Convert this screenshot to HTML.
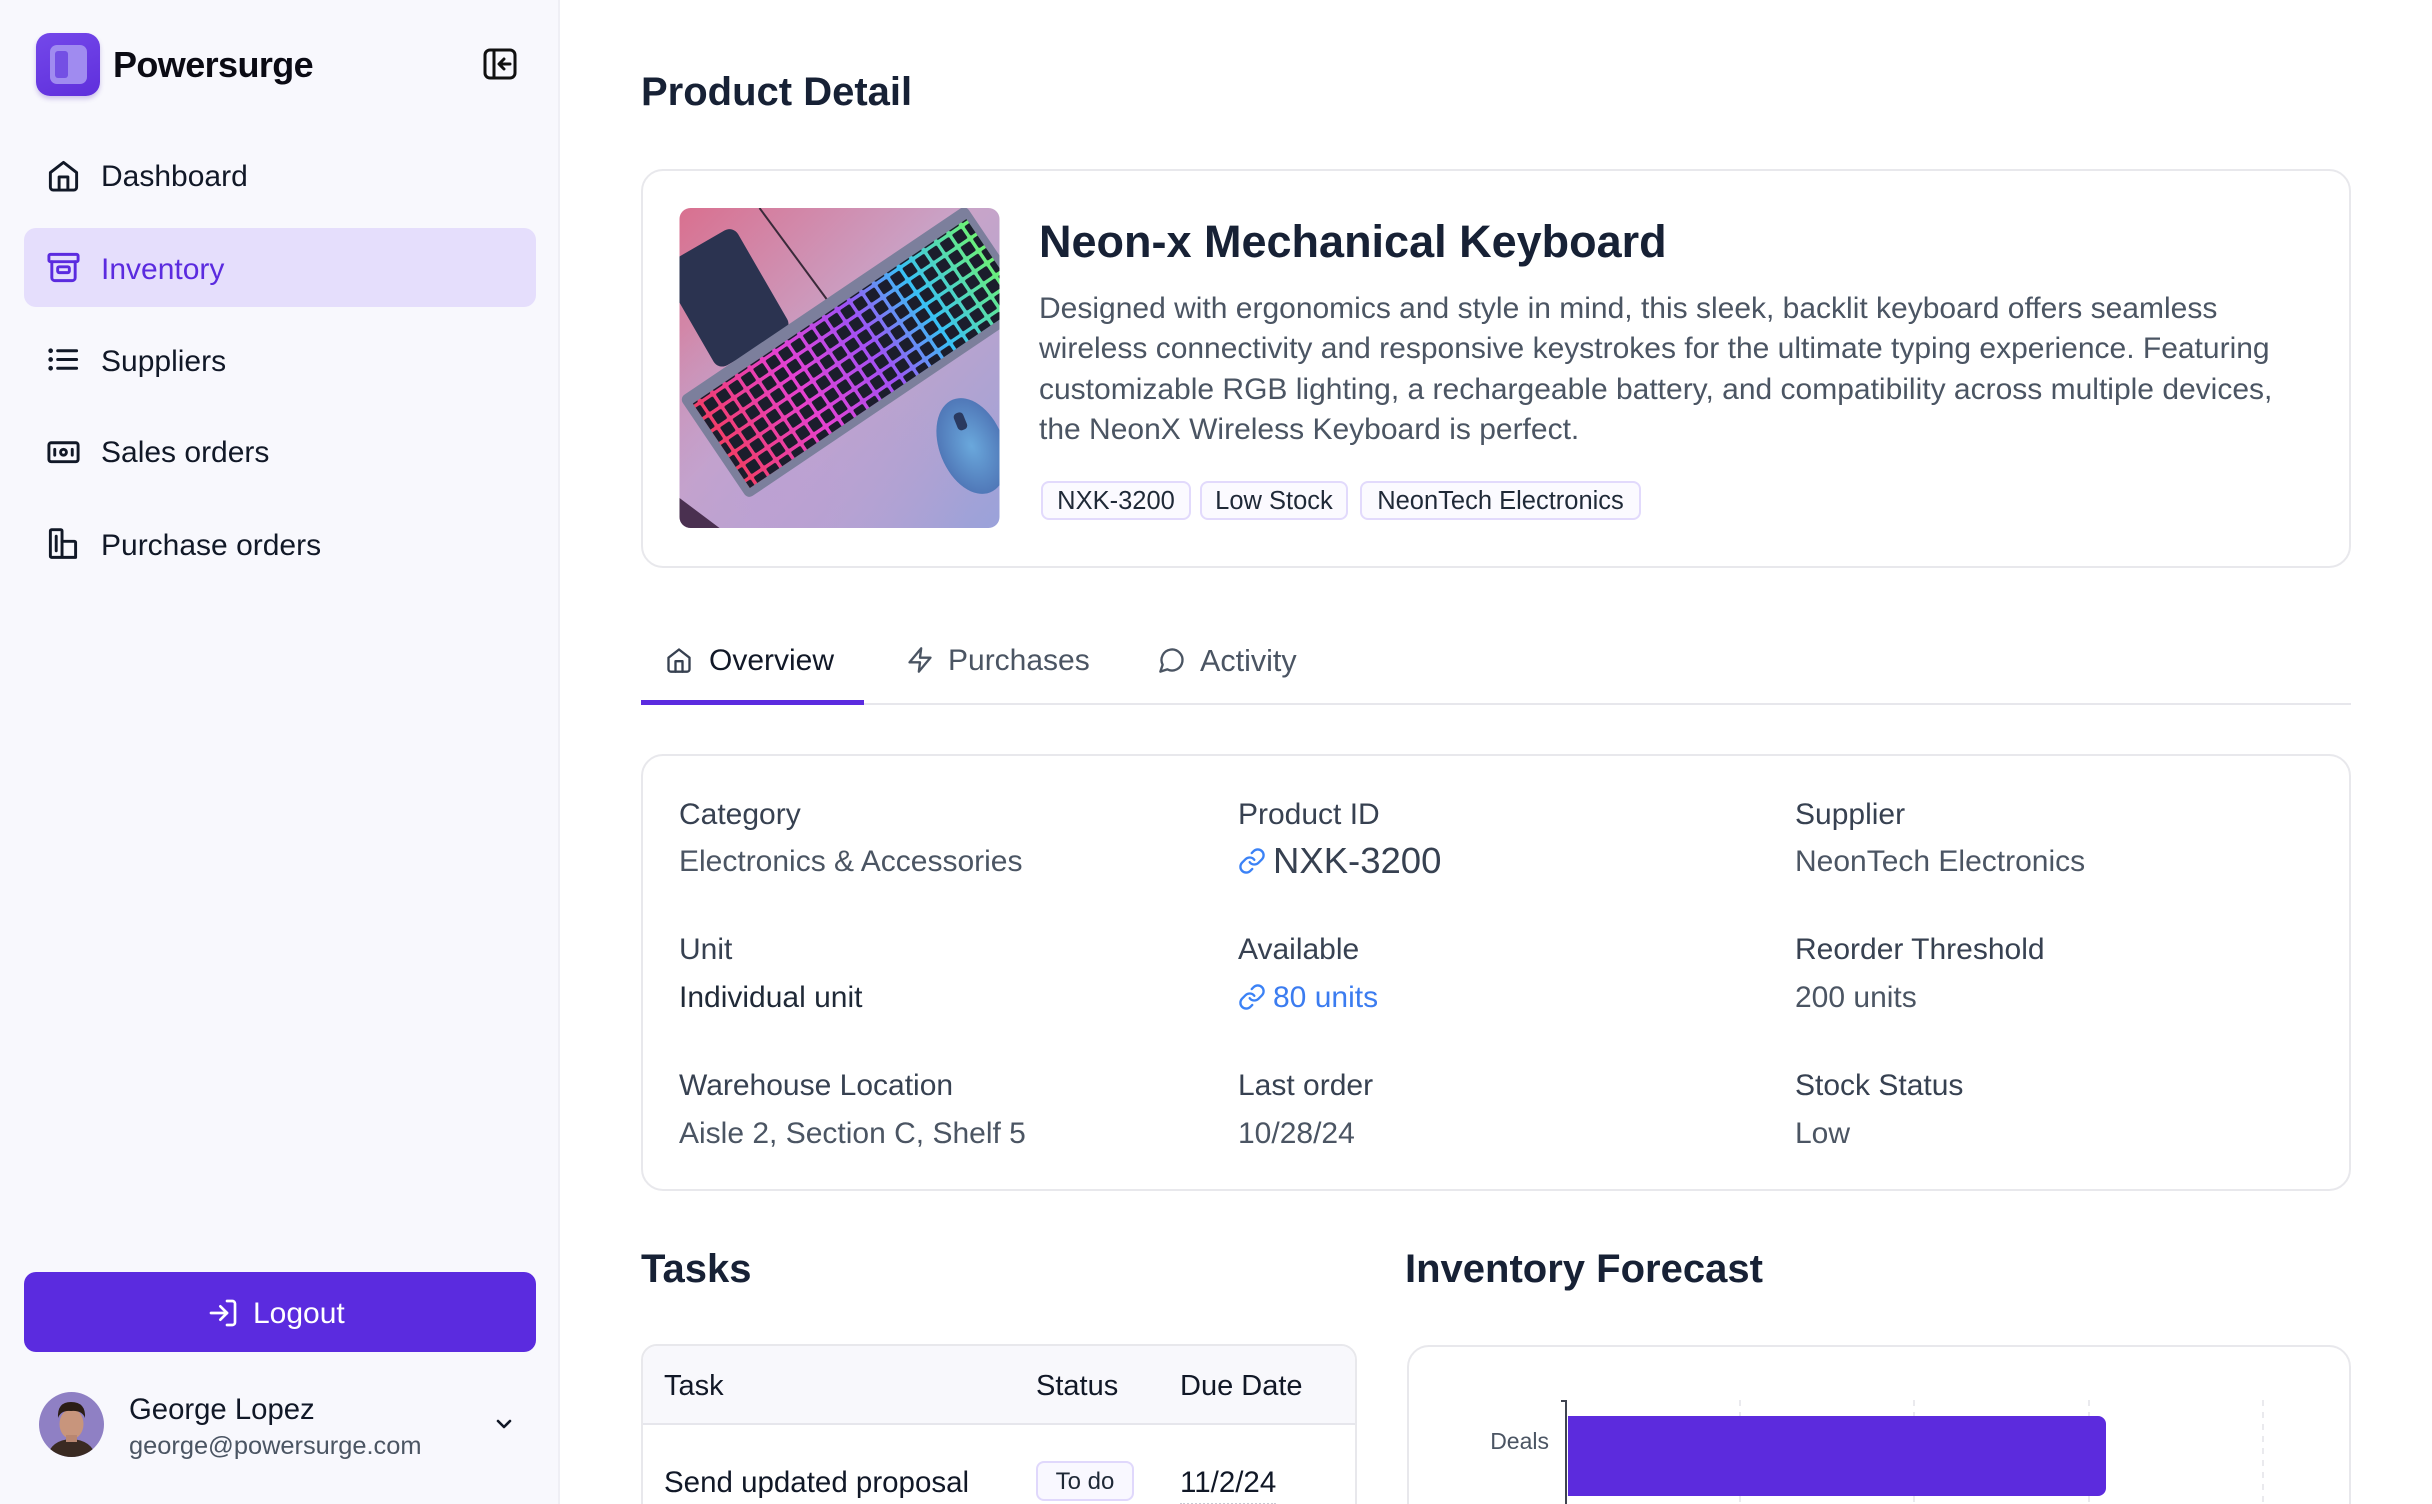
<!DOCTYPE html>
<html><head><meta charset="utf-8">
<style>
*{margin:0;padding:0;box-sizing:border-box}
html,body{width:2432px;height:1504px;overflow:hidden;background:#fff;font-family:"Liberation Sans",Arial,sans-serif;color:#111827}
#root{position:relative;width:2432px;height:1504px;overflow:hidden;background:#fff}
.a{position:absolute;white-space:nowrap}
svg{position:absolute;overflow:visible}
.nav{font-size:30px;line-height:40px;left:101px;color:#111827}
.ic{fill:none;stroke:#111827;stroke-width:2;stroke-linecap:round;stroke-linejoin:round}
.lbl{font-size:30px;line-height:40px;color:#374151}
.val{font-size:30px;line-height:40px;color:#4b5563}
.tag{position:absolute;top:481px;height:39px;border:2px solid #e2dafc;background:#fbfaff;border-radius:8px;font-size:25.5px;line-height:37px;text-align:center;color:#1f2937;white-space:nowrap}
</style></head><body>
<div id="root">

<!-- Sidebar -->
<div class="a" style="left:0;top:0;width:560px;height:1504px;background:#f8f8fd;border-right:2px solid #efeff5"></div>

<!-- logo -->
<div class="a" style="left:36px;top:33px;width:64px;height:63px;border-radius:14px;background:linear-gradient(160deg,#7448ea,#5f2fdc);box-shadow:0 3px 5px rgba(80,40,180,0.25)"></div>
<div class="a" style="left:50px;top:45px;width:37px;height:39px;border-radius:7px;background:#a08bf0"></div>
<div class="a" style="left:55px;top:51px;width:13px;height:27px;border-radius:3px;background:#7450e4"></div>
<div class="a" style="left:113px;top:45px;font-size:36px;line-height:40px;font-weight:bold;letter-spacing:-0.6px;color:#0b0b14">Powersurge</div>
<svg style="left:483px;top:48px" width="34" height="32" viewBox="0 0 34 32"><rect x="2" y="2" width="30" height="28" rx="5" fill="none" stroke="#111" stroke-width="3"/><line x1="11" y1="3" x2="11" y2="29" stroke="#111" stroke-width="3"/><path d="M27 16H17M21 11l-5 5 5 5" fill="none" stroke="#111" stroke-width="3" stroke-linecap="round" stroke-linejoin="round"/></svg>

<!-- nav -->
<svg style="left:46px;top:158px" width="35" height="35" viewBox="0 0 24 24"><path class="ic" d="M3 10l9-7 9 7v10a2 2 0 0 1-2 2H5a2 2 0 0 1-2-2z"/><path class="ic" d="M9 22V13h6v9"/></svg>
<div class="a nav" style="top:157px">Dashboard</div>

<div class="a" style="left:24px;top:228px;width:512px;height:79px;border-radius:12px;background:#e5defc"></div>
<svg style="left:46px;top:250px" width="35" height="35" viewBox="0 0 24 24"><g class="ic" style="stroke:#5b2bdf"><rect x="2" y="3" width="20" height="5" rx="1"/><path d="M4 8v11a2 2 0 0 0 2 2h12a2 2 0 0 0 2-2V8"/><rect x="8" y="11.5" width="8" height="4" rx="1"/></g></svg>
<div class="a nav" style="top:250px;color:#5b2bdf">Inventory</div>

<svg style="left:46px;top:342px" width="35" height="35" viewBox="0 0 24 24"><g class="ic"><path d="M8 6h13M8 12h13M8 18h13"/></g><circle cx="3.2" cy="6" r="1.6" fill="#111827"/><circle cx="3.2" cy="12" r="1.6" fill="#111827"/><circle cx="3.2" cy="18" r="1.6" fill="#111827"/></svg>
<div class="a nav" style="top:342px">Suppliers</div>

<svg style="left:46px;top:434px" width="35" height="35" viewBox="0 0 24 24"><g class="ic"><rect x="2" y="6" width="20" height="13" rx="1.5"/><path d="M6 10.5v4M18 10.5v4"/><circle cx="12" cy="12.5" r="2"/></g></svg>
<div class="a nav" style="top:433px">Sales orders</div>

<svg style="left:46px;top:526px" width="35" height="35" viewBox="0 0 24 24"><g class="ic"><rect x="3" y="2.5" width="8" height="19" rx="0.8"/><path d="M11 10.5h8.5a.8.8 0 0 1 .8.8V21.5H11"/><path d="M7 7v10"/></g></svg>
<div class="a nav" style="top:526px">Purchase orders</div>

<!-- logout -->
<div class="a" style="left:24px;top:1272px;width:512px;height:80px;border-radius:12px;background:#5b2bdf"></div>
<svg style="left:207px;top:1297px" width="32" height="32" viewBox="0 0 24 24"><g class="ic" style="stroke:#fff"><path d="M15 3h4a2 2 0 0 1 2 2v14a2 2 0 0 1-2 2h-4"/><path d="M10 17l5-5-5-5"/><path d="M15 12H3"/></g></svg>
<div class="a" style="left:253px;top:1294px;font-size:30px;line-height:40px;color:#fff">Logout</div>

<!-- user -->
<svg style="left:39px;top:1392px" width="65" height="65" viewBox="0 0 65 65">
<defs><clipPath id="av"><circle cx="32.5" cy="32.5" r="32.5"/></clipPath></defs>
<g clip-path="url(#av)">
<rect width="65" height="65" fill="#8f80c4"/>
<path d="M8 65 Q12 48 32 47 Q53 48 57 65Z" fill="#3a2a22"/>
<ellipse cx="32.5" cy="32" rx="12" ry="15" fill="#c8957c"/>
<path d="M19 26 Q18 10 32 10 Q47 10 46 26 Q43 18 32 19 Q22 18 19 26Z" fill="#2b1d16"/>
<rect x="27" y="43" width="11" height="7" fill="#b98670"/>
</g></svg>
<div class="a" style="left:129px;top:1390px;font-size:29.3px;line-height:40px;color:#111827">George Lopez</div>
<div class="a" style="left:129px;top:1429px;font-size:25.4px;line-height:34px;color:#4b5563">george@powersurge.com</div>
<svg style="left:492px;top:1412px" width="24" height="24" viewBox="0 0 24 24"><path d="M6 9l6 6 6-6" fill="none" stroke="#111827" stroke-width="2.6" stroke-linecap="round" stroke-linejoin="round"/></svg>

<!-- Main -->
<div class="a" style="left:641px;top:70px;font-size:40px;line-height:44px;font-weight:bold;color:#172135">Product Detail</div>

<!-- product card -->
<div class="a" style="left:641px;top:169px;width:1710px;height:399px;border:2px solid #e8e8ec;border-radius:22px"></div>
<svg style="left:679px;top:208px" width="321" height="320" viewBox="0 0 320 320">
<defs>
<clipPath id="ic"><rect width="320" height="320" rx="11"/></clipPath>
<linearGradient id="bg" x1="0" y1="0" x2="1" y2="1"><stop offset="0" stop-color="#d9708f"/><stop offset="0.45" stop-color="#c9a4c8"/><stop offset="1" stop-color="#9aa2da"/></linearGradient>
<radialGradient id="bl" cx="0.3" cy="0.9" r="0.6"><stop offset="0" stop-color="#bca0d4" stop-opacity="0.8"/><stop offset="1" stop-color="#bca0d4" stop-opacity="0"/></radialGradient>
<linearGradient id="kg" x1="0" y1="0" x2="1" y2="0"><stop offset="0" stop-color="#ff3560"/><stop offset="0.3" stop-color="#f03ad8"/><stop offset="0.55" stop-color="#a44cff"/><stop offset="0.75" stop-color="#30c8ff"/><stop offset="1" stop-color="#6cff70"/></linearGradient>
<pattern id="keys" width="15" height="15" patternUnits="userSpaceOnUse"><rect x="2" y="2" width="11.5" height="11.5" rx="1.5" fill="#1b1d2c"/></pattern>
<radialGradient id="ms" cx="0.5" cy="0.5" r="0.5"><stop offset="0" stop-color="#6aa8dc"/><stop offset="1" stop-color="#5078b8"/></radialGradient>
</defs>
<g clip-path="url(#ic)">
<rect width="320" height="320" fill="url(#bg)"/>
<rect width="320" height="320" fill="url(#bl)"/>
<path d="M0 290 L40 320 L0 320Z" fill="#4a3050"/>
<path d="M80 0 L150 95" stroke="#3a2a3a" stroke-width="2"/>
<g transform="translate(-20,60) rotate(-30)"><rect x="0" y="0" width="85" height="118" rx="10" fill="#2b3350"/></g>
<g transform="translate(0,190) rotate(-34)">
<rect x="0" y="0" width="345" height="122" rx="6" fill="#7c7f9c"/>
<rect x="8" y="12" width="330" height="102" fill="url(#kg)" opacity="0.9"/>
<rect x="8" y="12" width="330" height="102" fill="url(#keys)"/>
</g>
<g transform="translate(292,238) rotate(-22)"><ellipse cx="0" cy="0" rx="32" ry="50" fill="url(#ms)"/><rect x="-6" y="-36" width="10" height="18" rx="4" fill="#2a3a60"/></g>
</g>
</svg>

<div class="a" style="left:1039px;top:217px;font-size:45px;line-height:50px;font-weight:bold;color:#172135">Neon-x Mechanical Keyboard</div>
<div class="a" style="left:1039px;top:289px;font-size:30px;line-height:40.4px;color:#4b5563">Designed with ergonomics and style in mind, this sleek, backlit keyboard offers seamless<br>wireless connectivity and responsive keystrokes for the ultimate typing experience. Featuring<br>customizable RGB lighting, a rechargeable battery, and compatibility across multiple devices,<br>the NeonX Wireless Keyboard is perfect.</div>

<div class="tag" style="left:1041px;width:150px">NXK-3200</div>
<div class="tag" style="left:1200px;width:148px">Low Stock</div>
<div class="tag" style="left:1360px;width:281px">NeonTech Electronics</div>

<!-- tabs -->
<svg style="left:665px;top:646px" width="28" height="28" viewBox="0 0 24 24"><path class="ic" style="stroke:#374151" d="M3 10l9-7 9 7v10a2 2 0 0 1-2 2H5a2 2 0 0 1-2-2z"/><path class="ic" style="stroke:#374151" d="M9 22V13h6v9"/></svg>
<div class="a" style="left:709px;top:641px;font-size:30px;line-height:40px;color:#111827">Overview</div>
<svg style="left:906px;top:646px" width="28" height="28" viewBox="0 0 24 24"><path class="ic" style="stroke:#4b5563" d="M13 2 3 14h9l-1 8 10-12h-9l1-8z"/></svg>
<div class="a" style="left:948px;top:641px;font-size:30px;line-height:40px;color:#4b5563">Purchases</div>
<svg style="left:1158px;top:646px" width="28" height="28" viewBox="0 0 24 24"><path class="ic" style="stroke:#4b5563" d="M7.9 20A9 9 0 1 0 4 16.1L2 22Z"/></svg>
<div class="a" style="left:1200px;top:641px;font-size:30.5px;line-height:40px;color:#4b5563">Activity</div>
<div class="a" style="left:641px;top:703px;width:1710px;height:2px;background:#e7e7ec"></div>
<div class="a" style="left:641px;top:700px;width:223px;height:5px;background:#5b2bdf"></div>

<!-- details card -->
<div class="a" style="left:641px;top:754px;width:1710px;height:437px;border:2px solid #e8e8ec;border-radius:22px"></div>

<div class="a lbl" style="left:679px;top:795px">Category</div>
<div class="a val" style="left:679px;top:842px">Electronics &amp; Accessories</div>
<div class="a lbl" style="left:679px;top:930px">Unit</div>
<div class="a val" style="left:679px;top:978px;color:#1f2937">Individual unit</div>
<div class="a lbl" style="left:679px;top:1066px">Warehouse Location</div>
<div class="a val" style="left:679px;top:1114px">Aisle 2, Section C, Shelf 5</div>

<div class="a lbl" style="left:1238px;top:795px">Product ID</div>
<svg style="left:1238px;top:847px" width="28" height="28" viewBox="0 0 24 24"><g class="ic" style="stroke:#3b82f6"><path d="M10 13a5 5 0 0 0 7.54.54l3-3a5 5 0 0 0-7.07-7.07l-1.72 1.71"/><path d="M14 11a5 5 0 0 0-7.54-.54l-3 3a5 5 0 0 0 7.07 7.07l1.71-1.71"/></g></svg>
<div class="a" style="left:1273px;top:839px;font-size:36.5px;line-height:44px;color:#374151">NXK-3200</div>
<div class="a lbl" style="left:1238px;top:930px">Available</div>
<svg style="left:1238px;top:983px" width="28" height="28" viewBox="0 0 24 24"><g class="ic" style="stroke:#3b82f6"><path d="M10 13a5 5 0 0 0 7.54.54l3-3a5 5 0 0 0-7.07-7.07l-1.72 1.71"/><path d="M14 11a5 5 0 0 0-7.54-.54l-3 3a5 5 0 0 0 7.07 7.07l1.71-1.71"/></g></svg>
<div class="a val" style="left:1273px;top:978px;color:#3b7cf0">80 units</div>
<div class="a lbl" style="left:1238px;top:1066px">Last order</div>
<div class="a val" style="left:1238px;top:1114px">10/28/24</div>

<div class="a lbl" style="left:1795px;top:795px">Supplier</div>
<div class="a val" style="left:1795px;top:842px">NeonTech Electronics</div>
<div class="a lbl" style="left:1795px;top:930px">Reorder Threshold</div>
<div class="a val" style="left:1795px;top:978px">200 units</div>
<div class="a lbl" style="left:1795px;top:1066px">Stock Status</div>
<div class="a val" style="left:1795px;top:1114px">Low</div>

<!-- Tasks -->
<div class="a" style="left:641px;top:1247px;font-size:40px;line-height:44px;font-weight:bold;color:#172135">Tasks</div>
<div class="a" style="left:641px;top:1344px;width:716px;height:220px;border:2px solid #e8e8ec;border-radius:16px;background:#fff;overflow:hidden">
  <div style="position:absolute;left:0;top:0;width:100%;height:79px;background:#f8f8fc;border-bottom:2px solid #e6e6ec"></div>
</div>
<div class="a" style="left:664px;top:1366px;font-size:29px;line-height:40px;color:#111827">Task</div>
<div class="a" style="left:1036px;top:1366px;font-size:29px;line-height:40px;color:#111827">Status</div>
<div class="a" style="left:1180px;top:1366px;font-size:29px;line-height:40px;color:#111827">Due Date</div>
<div class="a" style="left:664px;top:1463px;font-size:29.5px;line-height:40px;color:#111827">Send updated proposal</div>
<div class="a" style="left:1036px;top:1461px;width:98px;height:40px;border:2px solid #e0d8fc;background:#f9f8ff;border-radius:8px;font-size:24px;line-height:38px;text-align:center;color:#1f2937">To do</div>
<div class="a" style="left:1180px;top:1463px;font-size:29.5px;line-height:40px;color:#111827;border-bottom:2px dotted #c9c9d4;height:42px">11/2/24</div>

<!-- Forecast -->
<div class="a" style="left:1405px;top:1247px;font-size:40px;line-height:44px;font-weight:bold;color:#172135">Inventory Forecast</div>
<div class="a" style="left:1407px;top:1345px;width:944px;height:220px;border:2px solid #e8e8ec;border-radius:22px"></div>
<svg style="left:0;top:0" width="2432" height="1504">
<g stroke="#e3e3e8" stroke-width="1.5" stroke-dasharray="6 6">
<line x1="1740" y1="1400" x2="1740" y2="1504"/>
<line x1="1914" y1="1400" x2="1914" y2="1504"/>
<line x1="2089" y1="1400" x2="2089" y2="1504"/>
<line x1="2263" y1="1400" x2="2263" y2="1504"/>
</g>
<path d="M1568 1416 H2098 a8 8 0 0 1 8 8 V1488 a8 8 0 0 1 -8 8 H1568Z" fill="#5c2bdd"/>
<line x1="1566" y1="1400" x2="1566" y2="1504" stroke="#3f4450" stroke-width="2"/>
<line x1="1561" y1="1401" x2="1566" y2="1401" stroke="#3f4450" stroke-width="2"/>
<text x="1549" y="1449" text-anchor="end" font-family="Liberation Sans, Arial, sans-serif" font-size="23" fill="#4b5563">Deals</text>
</svg>

</div>
</body></html>
